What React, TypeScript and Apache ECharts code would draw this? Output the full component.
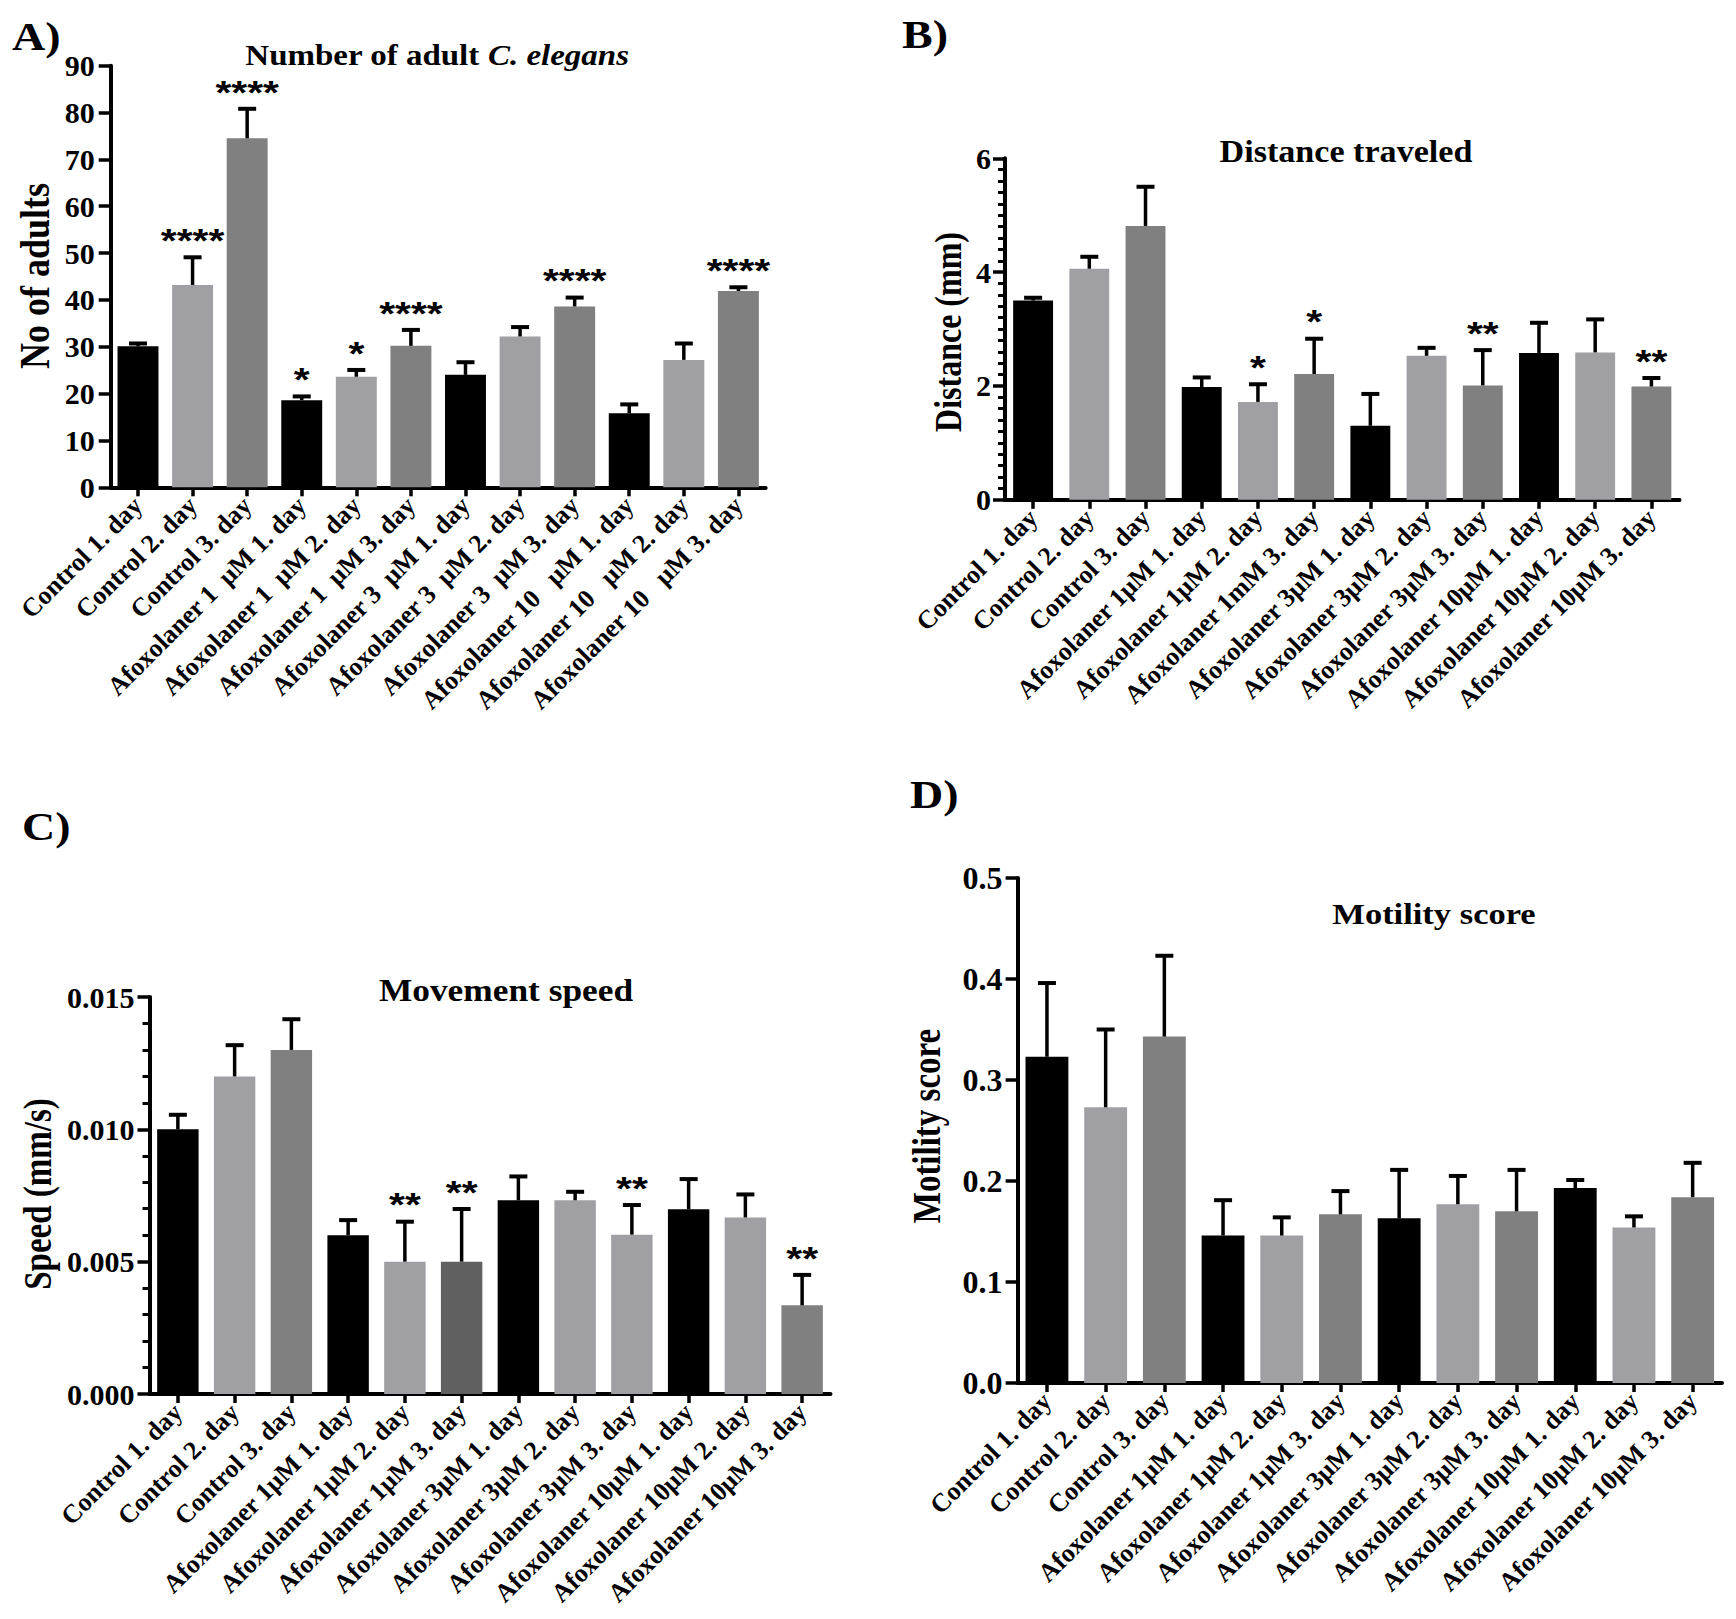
import React, { useEffect, useRef } from "react";
import * as echarts from "echarts";

// ---- categories (x-axis tick labels) ----
const CATS_A = [
  "Control 1. day", "Control 2. day", "Control 3. day",
  "Afoxolaner 1  μM 1. day", "Afoxolaner 1  μM 2. day", "Afoxolaner 1  μM 3. day",
  "Afoxolaner 3  μM 1. day", "Afoxolaner 3  μM 2. day", "Afoxolaner 3  μM 3. day",
  "Afoxolaner 10   μM 1. day", "Afoxolaner 10   μM 2. day", "Afoxolaner 10   μM 3. day",
];
const CATS_B = [
  "Control 1. day", "Control 2. day", "Control 3. day",
  "Afoxolaner 1μM 1. day", "Afoxolaner 1μM 2. day", "Afoxolaner 1mM 3. day",
  "Afoxolaner 3μM 1. day", "Afoxolaner 3μM 2. day", "Afoxolaner 3μM 3. day",
  "Afoxolaner 10μM 1. day", "Afoxolaner 10μM 2. day", "Afoxolaner 10μM 3. day",
];
const CATS_CD = [
  "Control 1. day", "Control 2. day", "Control 3. day",
  "Afoxolaner 1μM 1. day", "Afoxolaner 1μM 2. day", "Afoxolaner 1μM 3. day",
  "Afoxolaner 3μM 1. day", "Afoxolaner 3μM 2. day", "Afoxolaner 3μM 3. day",
  "Afoxolaner 10μM 1. day", "Afoxolaner 10μM 2. day", "Afoxolaner 10μM 3. day",
];

// ---- A) Number of adult C. elegans ----
const A_MEAN = [30.1, 43.2, 74.5, 18.6, 23.6, 30.2, 24.0, 32.2, 38.6, 15.8, 27.2, 41.9];
const A_SEM = [0.6, 5.9, 6.3, 0.8, 1.45, 3.4, 2.7, 2.0, 1.9, 1.9, 3.5, 0.8];
const A_SIG = ["", "****", "****", "*", "*", "****", "", "", "****", "", "", "****"];

// ---- B) Distance traveled (mm) ----
const B_MEAN = [3.5, 4.06, 4.81, 1.98, 1.72, 2.21, 1.3, 2.53, 2.01, 2.58, 2.59, 1.99];
const B_SEM = [0.05, 0.21, 0.69, 0.17, 0.31, 0.62, 0.56, 0.14, 0.62, 0.53, 0.58, 0.15];
const B_SIG = ["", "", "", "", "*", "*", "", "", "**", "", "", "**"];

// ---- C) Movement speed (mm/s) ----
const C_MEAN = [0.01, 0.012, 0.013, 0.006, 0.005, 0.005, 0.00732, 0.00732, 0.00602, 0.00698, 0.00667, 0.00335];
const C_SEM = [0.00055, 0.00118, 0.00116, 0.00057, 0.00151, 0.00199, 0.0009, 0.00032, 0.00112, 0.00114, 0.00087, 0.00115];
const C_SIG = ["", "", "", "", "**", "**", "", "", "**", "", "", "**"];

// ---- D) Motility score ----
const D_MEAN = [0.323, 0.273, 0.343, 0.146, 0.146, 0.167, 0.163, 0.177, 0.17, 0.193, 0.154, 0.184];
const D_SEM = [0.073, 0.077, 0.08, 0.035, 0.018, 0.023, 0.048, 0.028, 0.041, 0.008, 0.011, 0.034];
const D_SIG = ["", "", "", "", "", "", "", "", "", "", "", ""];

const K = "#000000";
const L = "#a0a0a4";
const G = "#808080";
const DG = "#606060";
const COLORS_ABD = [K, L, G, K, L, G, K, L, G, K, L, G];
const COLORS_C = [K, L, G, K, L, DG, K, L, L, K, L, G];

const SERIF = '"Liberation Serif", "Times New Roman", serif';

function errorBars(sig: string[]) {
  return (params: any, api: any) => {
    const i = api.value(0);
    const v = api.value(1);
    const e = api.value(2);
    const base = api.coord([i, v]);
    const top = api.coord([i, v + e]);
    const hw = 9;
    const children: any[] = [
      {
        type: "line",
        shape: { x1: base[0], y1: base[1], x2: top[0], y2: top[1] },
        style: { stroke: "#000", lineWidth: 3.5 },
      },
      {
        type: "line",
        shape: { x1: top[0] - hw, y1: top[1], x2: top[0] + hw, y2: top[1] },
        style: { stroke: "#000", lineWidth: 4 },
      },
    ];
    const s = sig[params.dataIndex];
    if (s) {
      children.push({
        type: "text",
        x: top[0],
        y: top[1] - 17,
        scaleX: 1.2,
        style: {
          text: s,
          fill: "#000",
          font: 'bold 34px "Liberation Sans", Arial, sans-serif',
          align: "center",
          verticalAlign: "middle",
        },
      });
    }
    return { type: "group", children };
  };
}

function xAxisFor(idx: number, cats: string[]) {
  return {
    type: "category",
    gridIndex: idx,
    data: cats,
    axisLine: { show: true, lineStyle: { color: "#000", width: 4 } },
    axisTick: { show: true, alignWithLabel: true, length: 9, lineStyle: { color: "#000", width: 3.5 } },
    axisLabel: {
      interval: 0,
      rotate: 45,
      margin: 14,
      color: "#000",
      fontFamily: SERIF,
      fontWeight: "bold",
      fontSize: 26,
    },
    splitLine: { show: false },
  };
}

function yAxisFor(
  idx: number,
  max: number,
  interval: number,
  margin: number,
  fmt: (v: number) => string,
  minorSplit: number,
  fontSize: number
) {
  return {
    type: "value",
    gridIndex: idx,
    min: 0,
    max,
    interval,
    axisLine: { show: true, lineStyle: { color: "#000", width: 4 } },
    axisTick: { show: true, length: 12, lineStyle: { color: "#000", width: 3.5 } },
    minorTick: {
      show: minorSplit > 0,
      splitNumber: minorSplit > 0 ? minorSplit : 5,
      length: 7,
      lineStyle: { color: "#000", width: 3 },
    },
    splitLine: { show: false },
    minorSplitLine: { show: false },
    axisLabel: {
      margin,
      color: "#000",
      fontFamily: SERIF,
      fontWeight: "bold",
      fontSize,
      formatter: fmt,
    },
  };
}

function barSeries(idx: number, means: number[], colors: string[], width: string) {
  return {
    type: "bar",
    xAxisIndex: idx,
    yAxisIndex: idx,
    barWidth: width,
    data: means.map((v, i) => ({ value: v, itemStyle: { color: colors[i] } })),
    z: 2,
  };
}

function errSeries(idx: number, means: number[], sems: number[], sig: string[]) {
  return {
    type: "custom",
    xAxisIndex: idx,
    yAxisIndex: idx,
    renderItem: errorBars(sig),
    data: means.map((v, i) => [i, v, sems[i]]),
    z: 3,
  };
}

function label(text: string, x: number, y: number) {
  return {
    type: "text",
    x,
    y,
    scaleX: 1.15,
    style: { text, fill: "#000", font: `bold 40px ${SERIF}`, align: "left", verticalAlign: "middle" },
  };
}

function title(text: string, x: number, y: number, size: number, sx: number, rich?: any) {
  return {
    type: "text",
    x,
    y,
    scaleX: sx,
    style: {
      text,
      fill: "#000",
      font: `bold ${size}px ${SERIF}`,
      align: "center",
      verticalAlign: "middle",
      rich,
    },
  };
}

function yTitle(text: string, x: number, y: number, size: number) {
  return {
    type: "text",
    x,
    y,
    rotation: Math.PI / 2,
    scaleY: 1.2,
    style: { text, fill: "#000", font: `bold ${size}px ${SERIF}`, align: "center", verticalAlign: "middle" },
  };
}

export default function App() {
  const ref = useRef<HTMLDivElement>(null);

  useEffect(() => {
    if (!ref.current) return;
    const chart = echarts.init(ref.current, undefined, { renderer: "svg" });
    const option: any = {
      animation: false,
      backgroundColor: "#ffffff",
      grid: [
        { left: 110.7, top: 65.7, width: 655, height: 421.6 },
        { left: 1005, top: 158.3, width: 674.5, height: 341.5 },
        { left: 149.5, top: 997, width: 681, height: 397 },
        { left: 1017.6, top: 878, width: 704.4, height: 505 },
      ],
      xAxis: [xAxisFor(0, CATS_A), xAxisFor(1, CATS_B), xAxisFor(2, CATS_CD), xAxisFor(3, CATS_CD)],
      yAxis: [
        yAxisFor(0, 90, 10, 16, (v) => String(v), 0, 30),
        yAxisFor(1, 6, 2, 14, (v) => String(v), 10, 30),
        yAxisFor(2, 0.015, 0.005, 15, (v) => v.toFixed(3), 5, 30),
        yAxisFor(3, 0.5, 0.1, 15, (v) => v.toFixed(1), 0, 32),
      ],
      series: [
        barSeries(0, A_MEAN, COLORS_ABD, "75%"),
        barSeries(1, B_MEAN, COLORS_ABD, "71%"),
        barSeries(2, C_MEAN, COLORS_C, "73%"),
        barSeries(3, D_MEAN, COLORS_ABD, "73%"),
        errSeries(0, A_MEAN, A_SEM, A_SIG),
        errSeries(1, B_MEAN, B_SEM, B_SIG),
        errSeries(2, C_MEAN, C_SEM, C_SIG),
        errSeries(3, D_MEAN, D_SEM, D_SIG),
      ],
      graphic: [
        label("A)", 12, 37),
        label("B)", 902, 35),
        label("C)", 22, 827),
        label("D)", 910, 795),
        title("Number of adult {i|C. elegans}", 437, 55, 30, 1.1, {
          i: { fontStyle: "italic", fontWeight: "bold", fontSize: 30, fontFamily: SERIF, fill: "#000" },
        }),
        title("Distance traveled", 1346, 152, 31, 1.1),
        title("Movement speed", 506, 990, 31, 1.14),
        title("Motility score", 1434, 914, 30, 1.15),
        yTitle("No of adults", 35, 276, 36),
        yTitle("Distance (mm)", 949, 332, 32),
        yTitle("Speed (mm/s)", 38, 1194, 33),
        yTitle("Motility score", 927, 1126, 33),
      ],
    };
    chart.setOption(option);
    return () => chart.dispose();
  }, []);

  return (
    <div
      ref={ref}
      style={{ position: "absolute", left: 0, top: 0, width: 1736, height: 1619, background: "#fff" }}
    />
  );
}
